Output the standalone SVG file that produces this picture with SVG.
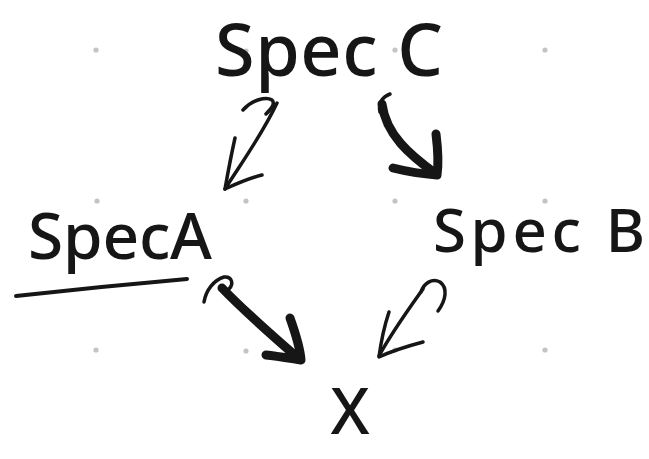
<svg xmlns="http://www.w3.org/2000/svg" width="649" height="459" viewBox="0 0 649 459">
  <style>
    .dot { fill: #c4c4c4; }
    .label { font-family: "Noto Sans", "DejaVu Sans", sans-serif; font-weight: 500; fill: #161616; }
    .ink { fill: none; stroke: #161616; stroke-linecap: round; stroke-linejoin: round; }
    .thin { stroke-width: 3.5; }
    .thick { stroke-width: 9; }
  </style>
  <rect width="649" height="459" fill="#ffffff"/>

  <!-- background grid dots -->
  <g id="grid">
    <circle class="dot" cx="96" cy="50" r="2.6"/>
    <circle class="dot" cx="246" cy="51" r="2.6"/>
    <circle class="dot" cx="395" cy="50" r="2.6"/>
    <circle class="dot" cx="545" cy="50" r="2.6"/>
    <circle class="dot" cx="97" cy="201" r="2.6"/>
    <circle class="dot" cx="246" cy="201" r="2.6"/>
    <circle class="dot" cx="395" cy="201" r="2.6"/>
    <circle class="dot" cx="545" cy="201" r="2.6"/>
    <circle class="dot" cx="96" cy="350" r="2.6"/>
    <circle class="dot" cx="246" cy="351" r="2.6"/>
    <circle class="dot" cx="395" cy="350" r="2.6"/>
    <circle class="dot" cx="545" cy="350" r="2.6"/>
  </g>

  <!-- connectors -->
  <g id="connectors">
    <!-- Spec C -> SpecA (thin, hooked start) -->
    <path class="ink thin" d="M243 110 C252 100 266 96 272 100 C276 104 270 110 266 114"/>
    <path class="ink thin" d="M277 103 C262 135 240 165 225 189"/>
    <path class="ink thin" d="M235 138 C231 156 228 172 225 189 C238 183 250 178 262 175"/>

    <!-- Spec C -> Spec B (thick) -->
    <path class="ink thin" d="M380 112 C378 104 382 97 390 94"/>
    <path class="ink thick" d="M382 104 C386 135 410 155 436 174"/>
    <path class="ink thick" d="M436 134 C438 150 439 162 437 175 C422 174 405 171 393 168"/>

    <!-- SpecA -> X (thick, hooked start) -->
    <path class="ink thin" d="M204 302 C206 290 214 280 224 277 C232 276 234 284 229 289"/>
    <path class="ink thick" d="M222 288 C245 312 275 338 298 358"/>
    <path class="ink thick" d="M290 318 C295 332 300 346 301 360 C288 358 276 356 266 355"/>

    <!-- Spec B -> X (thin, hooked start) -->
    <path class="ink thin" d="M438 311 C446 300 448 288 440 282 C432 278 424 283 421 292"/>
    <path class="ink thin" d="M423 289 C408 310 392 332 379 356"/>
    <path class="ink thin" d="M389 312 C384 327 381 342 379 357 C394 350 408 346 423 342"/>

    <!-- underline below SpecA -->
    <path class="ink" stroke-width="4" d="M16 296 C70 290 130 284 187 279"/>
  </g>

  <!-- nodes -->
  <g id="spec-c">
    <text class="label" x="215" y="76" font-size="72" textLength="228" lengthAdjust="spacing">Spec C</text>
  </g>
  <g id="spec-a">
    <text class="label" x="28" y="259" font-size="64" textLength="184" lengthAdjust="spacing">SpecA</text>
  </g>
  <g id="spec-b">
    <text class="label" x="433" y="252" font-size="60" textLength="212" lengthAdjust="spacing">Spec B</text>
  </g>
  <g id="x">
    <text class="label" x="350" y="434" font-size="64" text-anchor="middle">X</text>
  </g>
</svg>
